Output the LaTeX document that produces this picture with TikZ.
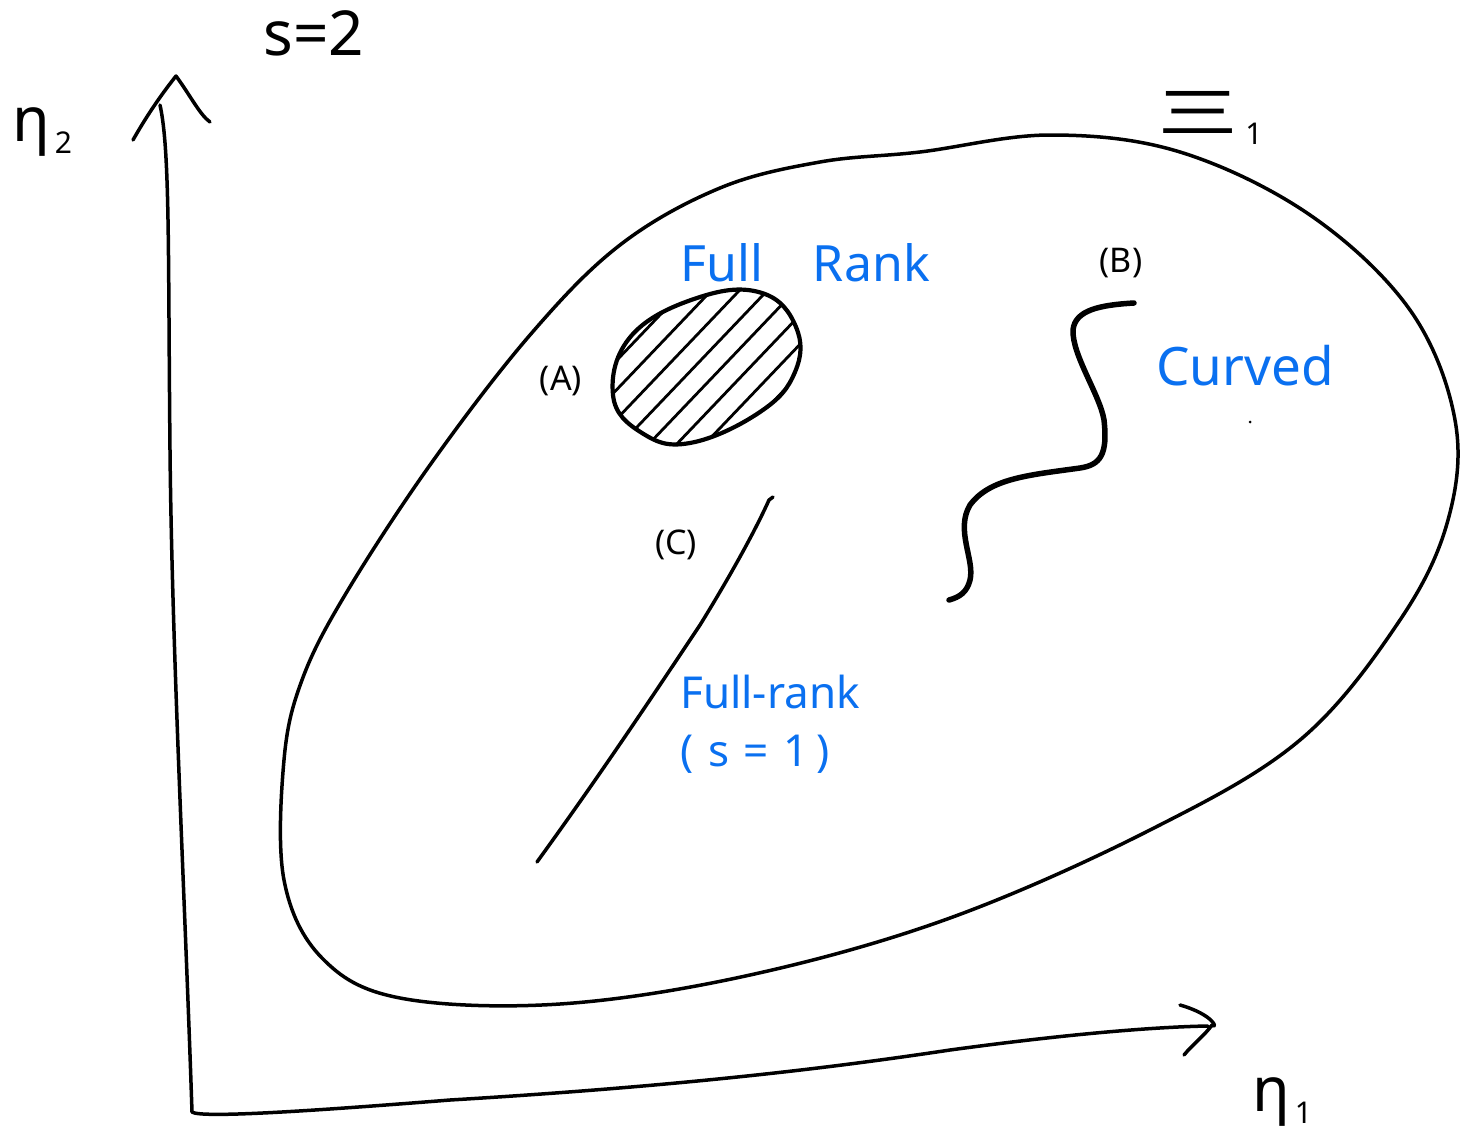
\documentclass[tikz,border=0pt]{standalone}
\usepackage{fontspec}
\usepackage{graphicx}
\setsansfont{Noto Sans}
\definecolor{penblue}{RGB}{10,112,240}
\tikzset{
  pen/.style={line width=3.5pt, line cap=round, line join=round},
  thickpen/.style={line width=5.5pt, line cap=round, line join=round},
  lbl/.style={font=\sffamily\fontsize{34}{40}\selectfont, inner sep=0pt},
  biglbl/.style={font=\sffamily\fontsize{62}{70}\selectfont, inner sep=0pt},
  bluelbl/.style={text=penblue, font=\sffamily\fontsize{50}{58}\selectfont, inner sep=0pt},
  bluesmall/.style={text=penblue, font=\sffamily\fontsize{44}{58}\selectfont, inner sep=0pt, align=left}
}
\newcommand{\subnum}[1]{\raisebox{-0.35ex}{\fontsize{30}{30}\selectfont\,#1}}
\begin{document}
\begin{tikzpicture}[x=1pt,y=-1pt]
\useasboundingbox (0,0) rectangle (1473,1146);
% axes
\coordinate (O) at (192,1112);
\coordinate (ytip) at (176,76);
\coordinate (xtip) at (1212,1025);
\draw[pen] (O) .. controls (185,900) and (172,650) .. (170,450) .. controls (168,250) and (170,150) .. (160,105);
\draw[pen] (133,140) .. controls (150,110) and (165,90) .. (ytip) .. controls (190,95) and (200,115) .. (210,122);
\draw[pen] (O) .. controls (200,1118) and (300,1112) .. (450,1100) .. controls (700,1085) and (850,1065) .. (950,1050) .. controls (1060,1035) and (1150,1027) .. (1208,1026);
\draw[pen] (1180,1005) .. controls (1215,1015) and (1218,1030) .. (xtip) .. controls (1205,1035) and (1192,1045) .. (1184,1055);
% big region
\draw[pen] plot[smooth cycle, tension=0.6] coordinates {
 (920,152) (1050,135) (1180,152) (1310,215) (1410,310) (1455,420) (1448,520)
 (1400,620) (1300,740) (1150,830) (950,918) (750,975) (560,1004) (400,998)
 (322,958) (284,880) (284,760) (302,680) (345,595) (430,465) (530,335)
 (620,245) (720,188) (820,162)};
% region A
\def\Apath{plot[smooth cycle, tension=0.7] coordinates {(613,395) (632,335) (700,297) (762,293) (796,327) (795,372) (760,412) (690,443) (642,433)}}
\begin{scope}
\clip \Apath;
\foreach \x in {400,428,...,820} {
  \draw[line width=2.8pt, line cap=round] (\x,470) -- (\x+210,250);
}
\end{scope}
\draw[pen, line width=4.2pt] \Apath;
% curve C
\draw[pen] (537,862) .. controls (600,775) and (650,700) .. (700,625) .. controls (740,560) and (760,520) .. (769,500) -- (773,497);
% curve B
\draw[thickpen] (1134,303) .. controls (1100,305) and (1075,310) .. (1073,330) .. controls (1072,355) and (1100,395) .. (1104,420) .. controls (1108,455) and (1100,465) .. (1080,468) .. controls (1030,475) and (990,478) .. (970,505) .. controls (955,530) and (975,560) .. (970,580) .. controls (967,592) and (960,597) .. (949,600);
% labels
\node[biglbl] (s2) at (314,33) {s=2};
\node[biglbl, anchor=west] (eta2) at (12,132) {η\subnum{2}};
\node[biglbl, anchor=west] (xi1) at (1155,118) {\scalebox{2.2}[0.95]{Ξ}\subnum{1}};
\node[biglbl, anchor=west] (eta1) at (1252,1102) {η\subnum{1}};
\node[lbl] (A) at (561,381) {(A)};
\node[lbl] (B) at (1121,263) {(B)};
\node[lbl] (C) at (676,545) {(C)};
\node[bluelbl] (fullrank) at (805,263) {Full\quad Rank};
\node[bluelbl, font=\sffamily\fontsize{53}{60}\selectfont] (curved) at (1245,366) {Curved};
\fill (1250,422) circle (1.5pt);
\node[bluesmall, anchor=north west] (fr1) at (680,675) {Full-rank\\(\,\,s\,\,=\,\,1\,)};
\end{tikzpicture}
\end{document}
